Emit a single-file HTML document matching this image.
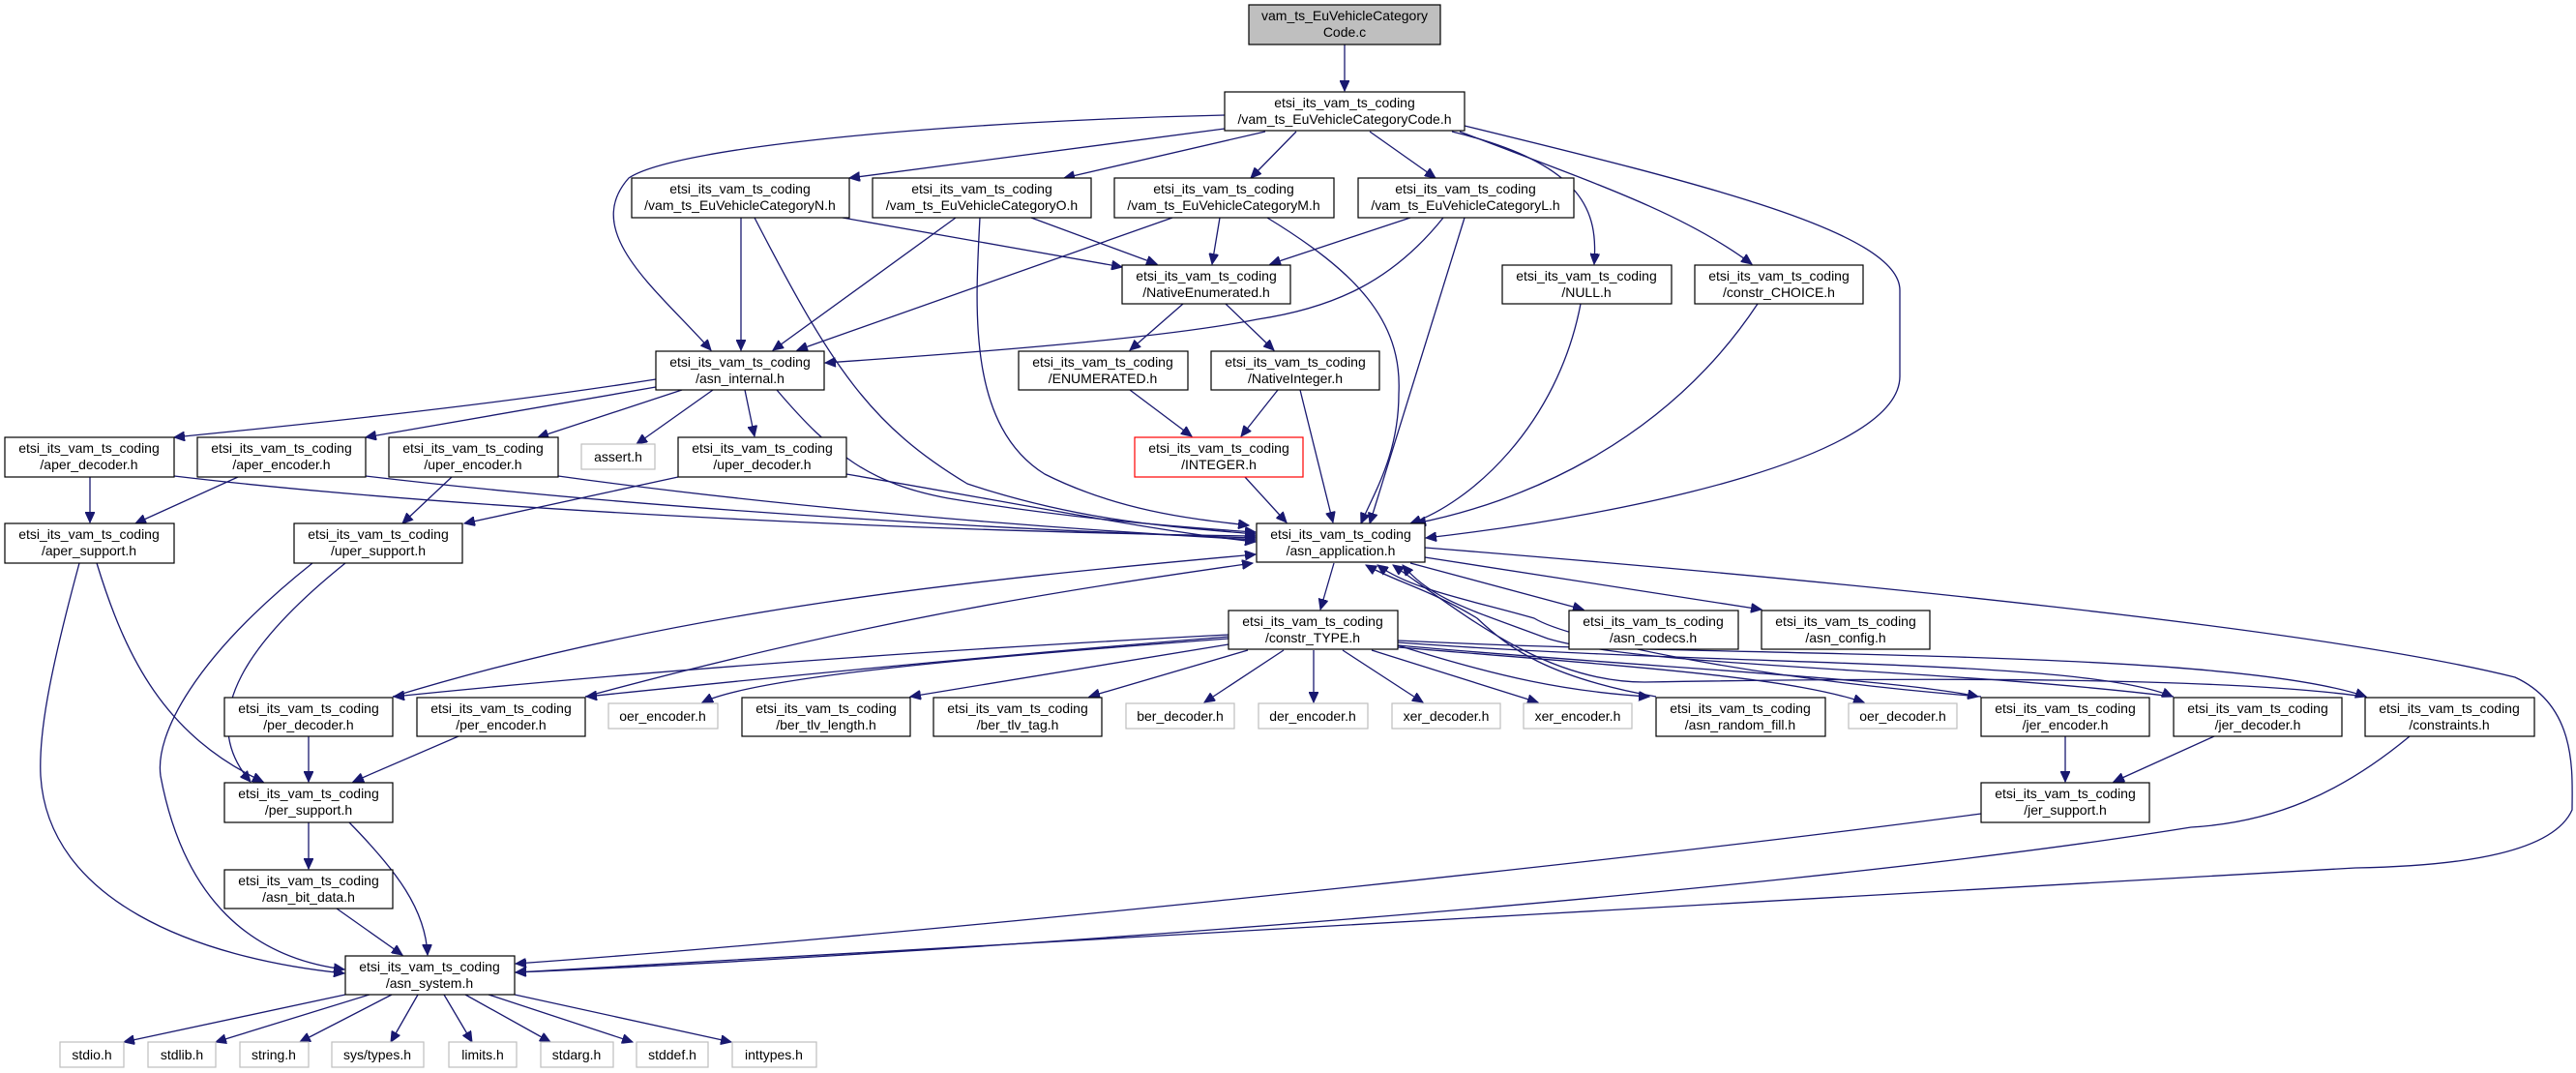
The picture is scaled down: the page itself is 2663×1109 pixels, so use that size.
<!DOCTYPE html>
<html><head><meta charset="utf-8"><style>
html,body{margin:0;padding:0;background:#fff;}
svg{display:block;}
text{font-family:"Liberation Sans",sans-serif;font-size:14px;fill:#000;text-anchor:middle;}
.e{fill:none;stroke:#191970;stroke-width:1.3;marker-end:url(#a);}
.n{fill:#fff;stroke:#000;stroke-width:1.2;}
.g{fill:#fff;stroke:#bfbfbf;stroke-width:1.2;}
</style></head><body>
<svg width="2663" height="1109" viewBox="0 0 2663 1109" xmlns="http://www.w3.org/2000/svg">
<defs><marker id="a" markerUnits="userSpaceOnUse" markerWidth="12" markerHeight="10" refX="11" refY="5" orient="auto"><path d="M0,0 L11,5 L0,10 z" fill="#191970" stroke="#191970"/></marker></defs>

<!-- edges -->
<path class="e" d="M1390,46 L1390,94"/>
<path class="e" d="M1266,133 L878,184"/>
<path class="e" d="M1308,136 L1100,184"/>
<path class="e" d="M1340,136 L1293,184"/>
<path class="e" d="M1416,136 L1484,184"/>
<path class="e" d="M1501,136 C1640,170 1652,220 1648,273"/>
<path class="e" d="M1509,136 C1650,190 1740,220 1811,273"/>
<path class="e" d="M1514,130 C1760,190 1964,240 1964,300 L1964,389 C1964,470 1700,530 1474,556"/>
<path class="e" d="M1266,119 C1000,125 700,150 650,184 C600,240 680,300 735,362"/>
<path class="e" d="M766,225 L766,362"/>
<path class="e" d="M871,225 L1160,276"/>
<path class="e" d="M780,225 C860,380 900,440 1000,500 C1120,540 1220,545 1298,552"/>
<path class="e" d="M988,225 L799,362"/>
<path class="e" d="M1066,225 L1196,273"/>
<path class="e" d="M1013,225 C1008,320 1000,440 1080,490 C1160,530 1240,537 1291,543"/>
<path class="e" d="M1212,225 L824,362"/>
<path class="e" d="M1261,225 L1253,273"/>
<path class="e" d="M1310,225 C1400,280 1450,330 1446,407 C1446,470 1420,510 1407,541"/>
<path class="e" d="M1458,225 L1313,273"/>
<path class="e" d="M1492,225 C1440,290 1380,318 1300,330 C1200,350 1000,365 853,375"/>
<path class="e" d="M1514,225 L1416,541"/>
<path class="e" d="M1634,314 C1610,440 1520,520 1458,541"/>
<path class="e" d="M1817,314 C1720,460 1570,520 1463,541"/>
<path class="e" d="M1223,314 L1168,362"/>
<path class="e" d="M1267,314 L1317,362"/>
<path class="e" d="M1168,403 L1232,451"/>
<path class="e" d="M1321,403 L1283,451"/>
<path class="e" d="M1344,403 L1378,540"/>
<path class="e" d="M1287,493 L1330,540"/>
<path class="e" d="M678,392 C500,420 300,440 180,452"/>
<path class="e" d="M678,400 L378,452"/>
<path class="e" d="M705,403 L556,452"/>
<path class="e" d="M737,403 L658,459"/>
<path class="e" d="M770,403 L780,451"/>
<path class="e" d="M803,403 C860,470 900,500 980,515 C1100,535 1220,545 1298,550"/>
<path class="e" d="M93,493 L93,540"/>
<path class="e" d="M246,493 L140,541"/>
<path class="e" d="M467,493 L416,541"/>
<path class="e" d="M701,493 L480,541"/>
<path class="e" d="M180,492 C500,530 1000,550 1298,554"/>
<path class="e" d="M378,492 C700,530 1100,550 1298,556"/>
<path class="e" d="M577,492 C850,530 1150,550 1298,558"/>
<path class="e" d="M875,490 C1050,520 1200,550 1298,560"/>
<path class="e" d="M100,582 C130,680 170,760 272,808"/>
<path class="e" d="M82,582 C50,700 40,760 42,802 C50,930 200,990 356,1006"/>
<path class="e" d="M357,582 C260,660 200,740 259,808"/>
<path class="e" d="M323,582 C200,680 160,760 166,802 C190,930 260,990 356,1002"/>
<path class="e" d="M319,761 L319,808"/>
<path class="e" d="M474,761 L365,808"/>
<path class="e" d="M319,850 L319,898"/>
<path class="e" d="M361,850 C410,900 440,940 442,987"/>
<path class="e" d="M348,939 L416,987"/>
<path class="e" d="M357,1028 L128,1077"/>
<path class="e" d="M382,1028 L223,1077"/>
<path class="e" d="M405,1028 L310,1077"/>
<path class="e" d="M432,1028 L404,1077"/>
<path class="e" d="M459,1028 L488,1077"/>
<path class="e" d="M481,1028 L569,1077"/>
<path class="e" d="M505,1028 L654,1077"/>
<path class="e" d="M532,1028 L756,1077"/>
<path class="e" d="M1379,582 L1365,630"/>
<path class="e" d="M1458,582 L1637,630"/>
<path class="e" d="M1473,576 L1821,630"/>
<path class="e" d="M1473,566 C1900,600 2400,650 2600,700 C2665,730 2659,800 2659,837 C2640,880 2550,895 2435,897 C1900,930 900,980 533,1005"/>
<path class="e" d="M406,720 C700,630 1000,600 1298,573"/>
<path class="e" d="M605,720 C900,640 1100,610 1295,582"/>
<path class="e" d="M1270,656 C1000,670 700,690 407,720"/>
<path class="e" d="M1270,658 C1000,680 800,700 606,720"/>
<path class="e" d="M1270,660 C1000,680 780,700 726,726"/>
<path class="e" d="M1270,666 L941,720"/>
<path class="e" d="M1290,672 L1126,720"/>
<path class="e" d="M1327,672 L1245,726"/>
<path class="e" d="M1358,672 L1358,726"/>
<path class="e" d="M1388,672 L1471,726"/>
<path class="e" d="M1418,672 L1590,726"/>
<path class="e" d="M1445,667 C1550,700 1620,715 1705,720"/>
<path class="e" d="M1445,669 C1700,690 1850,700 1927,726"/>
<path class="e" d="M1445,667 C1700,690 1950,700 2045,720"/>
<path class="e" d="M1445,664 C1800,690 2150,680 2246,720"/>
<path class="e" d="M1445,662 C1800,680 2300,670 2446,720"/>
<path class="e" d="M1712,720 C1600,700 1560,670 1527,639 C1480,610 1440,600 1412,584"/>
<path class="e" d="M2048,720 C1800,700 1620,660 1586,639 C1520,620 1460,610 1424,584"/>
<path class="e" d="M2247,720 C2000,690 1700,690 1600,660 C1520,630 1480,620 1450,584"/>
<path class="e" d="M2445,720 C2300,700 2000,700 1700,705 C1600,705 1520,640 1440,584"/>
<path class="e" d="M2135,761 L2135,808"/>
<path class="e" d="M2289,761 L2185,808"/>
<path class="e" d="M2048,841 C1600,900 900,970 533,996"/>
<path class="e" d="M2491,761 C2420,820 2350,850 2265,855 C1800,930 900,990 533,1005"/>

<!-- nodes -->
<rect x="1291" y="5" width="198" height="41" fill="#bfbfbf" stroke="#000" stroke-width="1.2"/>
<text x="1390" y="21">vam_ts_EuVehicleCategory</text><text x="1390" y="38">Code.c</text>

<rect class="n" x="1266" y="95" width="248" height="40"/>
<text x="1390" y="111">etsi_its_vam_ts_coding</text><text x="1390" y="128">/vam_ts_EuVehicleCategoryCode.h</text>

<rect class="n" x="653" y="184" width="225" height="41"/><text x="765" y="200">etsi_its_vam_ts_coding</text><text x="765" y="217">/vam_ts_EuVehicleCategoryN.h</text>
<rect class="n" x="902" y="184" width="226" height="41"/><text x="1015" y="200">etsi_its_vam_ts_coding</text><text x="1015" y="217">/vam_ts_EuVehicleCategoryO.h</text>
<rect class="n" x="1152" y="184" width="227" height="41"/><text x="1265" y="200">etsi_its_vam_ts_coding</text><text x="1265" y="217">/vam_ts_EuVehicleCategoryM.h</text>
<rect class="n" x="1404" y="184" width="223" height="41"/><text x="1515" y="200">etsi_its_vam_ts_coding</text><text x="1515" y="217">/vam_ts_EuVehicleCategoryL.h</text>

<rect class="n" x="1160" y="274" width="174" height="40"/><text x="1247" y="290">etsi_its_vam_ts_coding</text><text x="1247" y="307">/NativeEnumerated.h</text>
<rect class="n" x="1553" y="274" width="175" height="40"/><text x="1640" y="290">etsi_its_vam_ts_coding</text><text x="1640" y="307">/NULL.h</text>
<rect class="n" x="1752" y="274" width="174" height="40"/><text x="1839" y="290">etsi_its_vam_ts_coding</text><text x="1839" y="307">/constr_CHOICE.h</text>

<rect class="n" x="678" y="363" width="174" height="40"/><text x="765" y="379">etsi_its_vam_ts_coding</text><text x="765" y="396">/asn_internal.h</text>
<rect class="n" x="1053" y="363" width="175" height="40"/><text x="1140" y="379">etsi_its_vam_ts_coding</text><text x="1140" y="396">/ENUMERATED.h</text>
<rect class="n" x="1252" y="363" width="174" height="40"/><text x="1339" y="379">etsi_its_vam_ts_coding</text><text x="1339" y="396">/NativeInteger.h</text>

<rect class="n" x="5" y="452" width="175" height="41"/><text x="92" y="468">etsi_its_vam_ts_coding</text><text x="92" y="485">/aper_decoder.h</text>
<rect class="n" x="204" y="452" width="174" height="41"/><text x="291" y="468">etsi_its_vam_ts_coding</text><text x="291" y="485">/aper_encoder.h</text>
<rect class="n" x="402" y="452" width="175" height="41"/><text x="489" y="468">etsi_its_vam_ts_coding</text><text x="489" y="485">/uper_encoder.h</text>
<rect class="g" x="601" y="459" width="76" height="26"/><text x="639" y="477">assert.h</text>
<rect class="n" x="701" y="452" width="174" height="41"/><text x="788" y="468">etsi_its_vam_ts_coding</text><text x="788" y="485">/uper_decoder.h</text>
<rect x="1173" y="452" width="174" height="41" fill="#fff" stroke="#ff0000" stroke-width="1.2"/><text x="1260" y="468">etsi_its_vam_ts_coding</text><text x="1260" y="485">/INTEGER.h</text>

<rect class="n" x="1299" y="541" width="174" height="40"/><text x="1386" y="557">etsi_its_vam_ts_coding</text><text x="1386" y="574">/asn_application.h</text>
<rect class="n" x="5" y="541" width="175" height="41"/><text x="92" y="557">etsi_its_vam_ts_coding</text><text x="92" y="574">/aper_support.h</text>
<rect class="n" x="304" y="541" width="174" height="41"/><text x="391" y="557">etsi_its_vam_ts_coding</text><text x="391" y="574">/uper_support.h</text>

<rect class="n" x="1270" y="631" width="175" height="40"/><text x="1357" y="647">etsi_its_vam_ts_coding</text><text x="1357" y="664">/constr_TYPE.h</text>
<rect class="n" x="1622" y="631" width="175" height="40"/><text x="1709" y="647">etsi_its_vam_ts_coding</text><text x="1709" y="664">/asn_codecs.h</text>
<rect class="n" x="1821" y="631" width="174" height="40"/><text x="1908" y="647">etsi_its_vam_ts_coding</text><text x="1908" y="664">/asn_config.h</text>

<rect class="n" x="232" y="721" width="174" height="40"/><text x="319" y="737">etsi_its_vam_ts_coding</text><text x="319" y="754">/per_decoder.h</text>
<rect class="n" x="431" y="721" width="174" height="40"/><text x="518" y="737">etsi_its_vam_ts_coding</text><text x="518" y="754">/per_encoder.h</text>
<rect class="g" x="629" y="727" width="113" height="26"/><text x="685" y="745">oer_encoder.h</text>
<rect class="n" x="767" y="721" width="174" height="40"/><text x="854" y="737">etsi_its_vam_ts_coding</text><text x="854" y="754">/ber_tlv_length.h</text>
<rect class="n" x="965" y="721" width="174" height="40"/><text x="1052" y="737">etsi_its_vam_ts_coding</text><text x="1052" y="754">/ber_tlv_tag.h</text>
<rect class="g" x="1164" y="727" width="112" height="26"/><text x="1220" y="745">ber_decoder.h</text>
<rect class="g" x="1301" y="727" width="113" height="26"/><text x="1357" y="745">der_encoder.h</text>
<rect class="g" x="1439" y="727" width="112" height="26"/><text x="1495" y="745">xer_decoder.h</text>
<rect class="g" x="1575" y="727" width="112" height="26"/><text x="1631" y="745">xer_encoder.h</text>
<rect class="n" x="1712" y="721" width="175" height="40"/><text x="1799" y="737">etsi_its_vam_ts_coding</text><text x="1799" y="754">/asn_random_fill.h</text>
<rect class="g" x="1911" y="727" width="112" height="26"/><text x="1967" y="745">oer_decoder.h</text>
<rect class="n" x="2048" y="721" width="174" height="40"/><text x="2135" y="737">etsi_its_vam_ts_coding</text><text x="2135" y="754">/jer_encoder.h</text>
<rect class="n" x="2247" y="721" width="174" height="40"/><text x="2334" y="737">etsi_its_vam_ts_coding</text><text x="2334" y="754">/jer_decoder.h</text>
<rect class="n" x="2445" y="721" width="175" height="40"/><text x="2532" y="737">etsi_its_vam_ts_coding</text><text x="2532" y="754">/constraints.h</text>

<rect class="n" x="232" y="809" width="174" height="41"/><text x="319" y="825">etsi_its_vam_ts_coding</text><text x="319" y="842">/per_support.h</text>
<rect class="n" x="2048" y="809" width="174" height="41"/><text x="2135" y="825">etsi_its_vam_ts_coding</text><text x="2135" y="842">/jer_support.h</text>
<rect class="n" x="232" y="899" width="174" height="40"/><text x="319" y="915">etsi_its_vam_ts_coding</text><text x="319" y="932">/asn_bit_data.h</text>
<rect class="n" x="357" y="988" width="175" height="40"/><text x="444" y="1004">etsi_its_vam_ts_coding</text><text x="444" y="1021">/asn_system.h</text>

<rect class="g" x="62" y="1077" width="66" height="26"/><text x="95" y="1095">stdio.h</text>
<rect class="g" x="153" y="1077" width="70" height="26"/><text x="188" y="1095">stdlib.h</text>
<rect class="g" x="248" y="1077" width="71" height="26"/><text x="283" y="1095">string.h</text>
<rect class="g" x="343" y="1077" width="95" height="26"/><text x="390" y="1095">sys/types.h</text>
<rect class="g" x="464" y="1077" width="70" height="26"/><text x="499" y="1095">limits.h</text>
<rect class="g" x="559" y="1077" width="75" height="26"/><text x="596" y="1095">stdarg.h</text>
<rect class="g" x="658" y="1077" width="74" height="26"/><text x="695" y="1095">stddef.h</text>
<rect class="g" x="757" y="1077" width="87" height="26"/><text x="800" y="1095">inttypes.h</text>
</svg>
</body></html>
